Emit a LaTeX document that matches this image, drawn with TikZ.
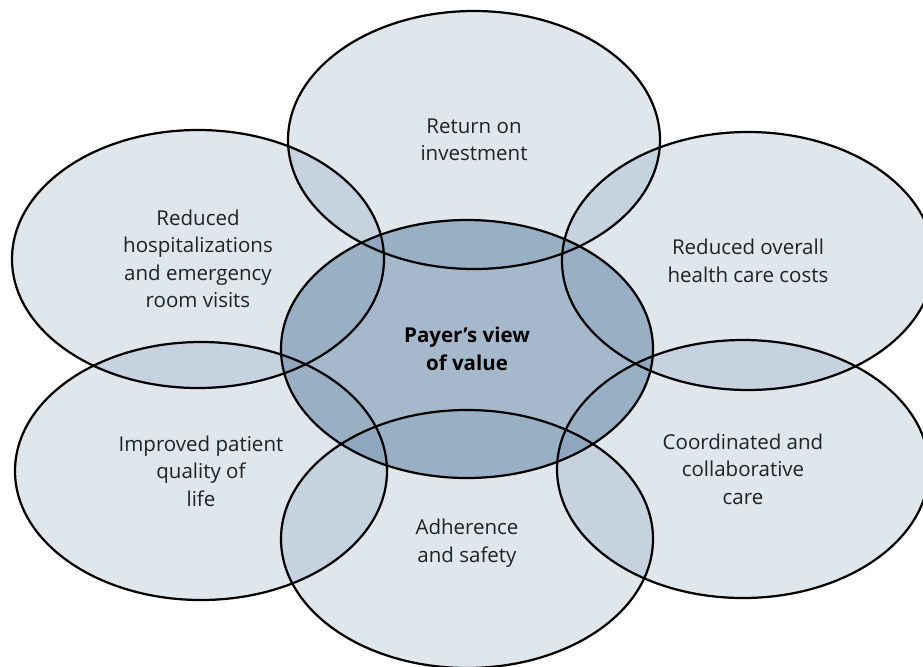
\documentclass[tikz,border=0pt]{standalone}
\usepackage{fontspec}
\setmainfont{Open Sans}

\definecolor{petal}{RGB}{110,141,169}
\definecolor{core}{HTML}{A6B9CC}
\definecolor{ink}{HTML}{222222}

\tikzset{
  lbl/.style={align=center, text=ink, font=\fontsize{17.5}{23.5}\selectfont},
  ring/.style={draw=black, line width=1.9pt},
}

\begin{document}
\begin{tikzpicture}[x=0.03cm,y=-0.03cm]

  \useasboundingbox (0,0) rectangle (923,666);
  \clip (0,0) rectangle (923,666);

  \def\rx{186};
  \def\ry{129};

  % stredy elips
  \coordinate (C)  at (467,349);
  \coordinate (T)  at (474,140);
  \coordinate (UL) at (198,259);
  \coordinate (UR) at (748,261);
  \coordinate (LL) at (201,471);
  \coordinate (LR) at (743,469);
  \coordinate (B)  at (467,539);

  \begin{scope}   % vyplne
    \fill[core] (C) ellipse [x radius=\rx, y radius=\ry];
    \foreach \p in {T,UL,UR,LL,LR,B}
    {
      \fill[petal, fill opacity=0.22] (\p) ellipse [x radius=\rx, y radius=\ry];
    }
  \end{scope}

  \begin{scope}   % obrysy
    \foreach \p in {C,T,UL,UR,LL,LR,B}
    {
      \draw[ring] (\p) ellipse [x radius=\rx, y radius=\ry];
    }
  \end{scope}

  \node[lbl] (roi)   at (T)  {Return on\\investment};
  \node[lbl] (hosp)  at (UL) {Reduced\\hospitalizations\\and emergency\\room visits};
  \node[lbl] (costs) at (UR) {Reduced overall\\health care costs};
  \node[lbl] (qol)   at (LL) {Improved patient\\quality of\\life};
  \node[lbl] (care)  at (LR) {Coordinated and\\collaborative\\care};
  \node[lbl] (safe)  at (467,543) {Adherence\\and safety};
  \node[lbl, text=black, font=\fontsize{17.5}{23.5}\selectfont\bfseries] (payer) at (C)
       {Payer’s view\\of value};

\end{tikzpicture}
\end{document}
